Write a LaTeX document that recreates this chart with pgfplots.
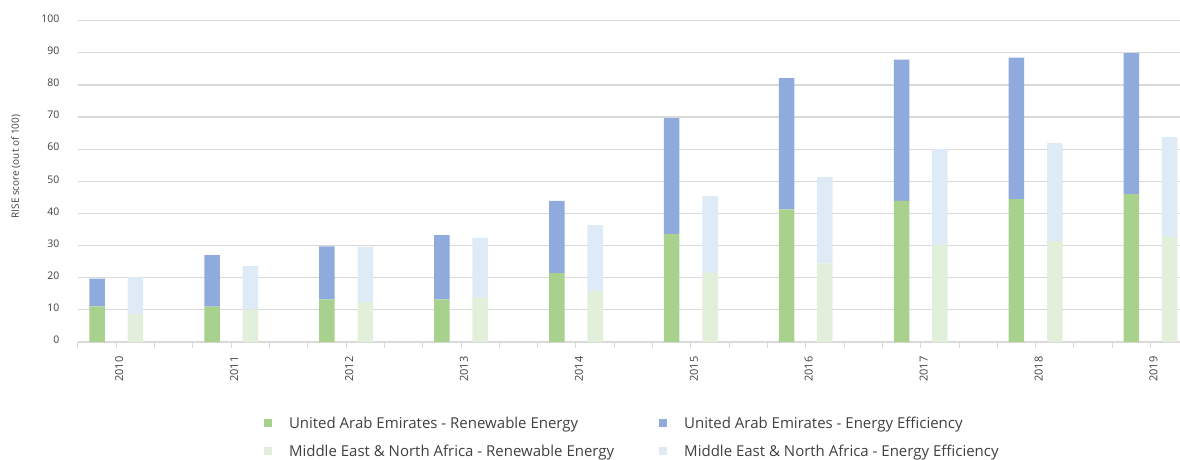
\documentclass[border=0pt]{standalone}
\usepackage{fontspec}
\setmainfont{Open Sans}
\usepackage{pgfplots}
\usepackage{pgfplotstable}
\pgfplotsset{compat=1.18}
\definecolor{uaere}{HTML}{A9D18E}
\definecolor{uaeee}{HTML}{8FAADC}
\definecolor{menare}{HTML}{E2EFDA}
\definecolor{menaee}{HTML}{DEEBF7}
\definecolor{gridc}{HTML}{D9D9D9}
\definecolor{txt}{HTML}{404040}
% x = slot position; UAE in slot 3k, MENA in slot 3k+1
\pgfplotstableread{
x    ure   uee   mre   mee
0.5  11.1  8.6   0     0
1.5  0     0     8.7   11.5
3.5  11.0  16.0  0     0
4.5  0     0     10.1  13.5
6.5  13.3  16.5  0     0
7.5  0     0     12.5  17.1
9.5  13.3  20.0  0     0
10.5 0     0     13.8  18.6
12.5 21.4  22.5  0     0
13.5 0     0     15.9  20.5
15.5 33.6  36.1  0     0
16.5 0     0     21.5  23.9
18.5 41.3  40.8  0     0
19.5 0     0     24.5  26.9
21.5 43.9  44.0  0     0
22.5 0     0     30.2  29.9
24.5 44.5  44.0  0     0
25.5 0     0     31.4  30.5
27.5 46.0  43.9  0     0
28.5 0     0     32.7  31.1
}\datatable
\begin{document}
\begin{tikzpicture}
\path[use as bounding box] (-78pt,-118pt) rectangle (1102pt,342pt);
\begin{axis}[
  at={(0,0)}, anchor=origin,
  scale only axis,
  width=1102pt, height=321.3pt,
  xmin=0, xmax=28.77,
  ymin=0, ymax=100,
  ybar stacked,
  bar width=15.5pt,
  axis x line*=bottom,
  axis y line*=left,
  x axis line style={gridc, line width=1.5pt},
  y axis line style={draw=none},
  ymajorgrids,
  grid style={gridc, line width=1.2pt},
  ytick={0,10,...,100},
  ytick style={draw=none},
  yticklabel style={font=\fontsize{10.5}{13}\selectfont, text=txt, xshift=-9pt, yshift=2pt},
  /pgf/number format/assume math mode=true,
  xtick={0,...,28},
  xticklabels={,2010,,,2011,,,2012,,,2013,,,2014,,,2015,,,2016,,,2017,,,2018,,,2019},
  xtick style={gridc, line width=1pt},
  tick align=outside,
  major tick length=6pt,
  xticklabel style={font=\fontsize{11}{13}\selectfont, text=txt, rotate=90, anchor=east, xshift=-5pt, yshift=-3pt},
  ylabel={RISE score (out of 100)},
  ylabel style={at={(axis description cs:-0.0563,0.546)}, anchor=center, font=\fontsize{10}{12}\selectfont, text=txt},
  legend columns=2,
  legend cell align=left,
  legend style={at={(0.503,-0.297)}, anchor=center, draw=none, fill=none,
    font=\fontsize{15}{17}\selectfont, text=txt,
    /tikz/every even column/.append style={column sep=43pt},
    /tikz/every odd column/.append style={column sep=15pt},
    /tikz/row sep=11pt},
  legend image code/.code={\path[#1, draw=none] (0pt,-4pt) rectangle (8pt,4pt);},
]
\addplot[fill=uaere, draw=none] table[x=x, y=ure] {\datatable};
\addplot[fill=uaeee, draw=none] table[x=x, y=uee] {\datatable};
\addplot[fill=menare, draw=none] table[x=x, y=mre] {\datatable};
\addplot[fill=menaee, draw=none] table[x=x, y=mee] {\datatable};
\legend{United Arab Emirates - Renewable Energy, United Arab Emirates - Energy Efficiency, Middle East \& North Africa - Renewable Energy, Middle East \& North Africa - Energy Efficiency}
\end{axis}
\end{tikzpicture}
\end{document}
